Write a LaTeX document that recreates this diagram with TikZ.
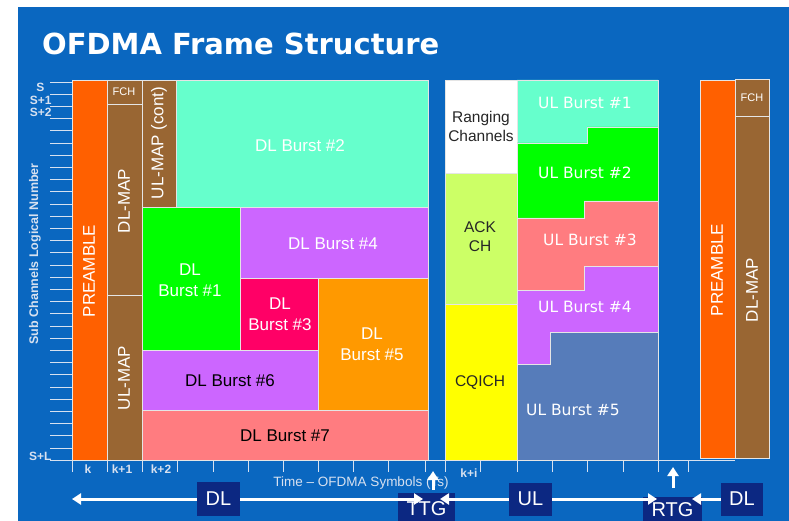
\documentclass[tikz,border=0pt]{standalone}
\usepackage{fontspec}
\setmainfont{Liberation Sans}
\newfontfamily\titlefont{DejaVu Sans}
\newfontfamily\ulfont{DejaVu Sans}
\usetikzlibrary{arrows.meta}

\definecolor{bgblue}{RGB}{10,103,192}
\definecolor{preorange}{RGB}{255,96,0}
\definecolor{mapbrown}{RGB}{153,102,51}
\definecolor{aqua}{RGB}{102,255,204}
\definecolor{burstgreen}{RGB}{0,255,0}
\definecolor{burstpurple}{RGB}{204,102,255}
\definecolor{burstred}{RGB}{255,0,102}
\definecolor{burstorange}{RGB}{255,153,0}
\definecolor{burstsalmon}{RGB}{255,124,128}
\definecolor{ackgreen}{RGB}{204,255,102}
\definecolor{cqiyellow}{RGB}{255,255,0}
\definecolor{ulsteel}{RGB}{86,124,186}
\definecolor{navybox}{RGB}{12,40,130}
\definecolor{axisgrey}{RGB}{215,225,240}

\begin{document}
\begin{tikzpicture}[x=1pt,y=-1pt,
    field/.style={draw=white!80!gray, line width=0.8pt},
    lbl/.style={font=\fontsize{17}{21}\selectfont, text=white, align=center},
    darklbl/.style={font=\fontsize{17}{21}\selectfont, text=black, align=center},
    chlbl/.style={font=\fontsize{15.5}{19}\selectfont, text=black!85, align=center},
    ullbl/.style={font=\ulfont\fontsize{15.5}{18}\selectfont, text=white},
    vlbl/.style={font=\fontsize{17}{19}\selectfont, text=white, rotate=90},
    fchlbl/.style={font=\fontsize{11}{12}\selectfont, text=white},
    ticklbl/.style={font=\bfseries\fontsize{12}{13}\selectfont, text=axisgrey},
    dirbox/.style={fill=navybox, text=white, font=\fontsize{20}{22}\selectfont, inner sep=0pt},
    dirarrow/.style={draw=white, line width=3pt, -{Triangle[length=9pt,width=11pt]}}]
  \useasboundingbox (0,0) rectangle (789,521);
  \fill[white] (0,0) rectangle (789,521);
  \fill[bgblue] (18,7) rectangle (789,521);

  % title
  \node[anchor=base west, inner sep=0pt, text=white,
        font=\titlefont\bfseries\fontsize{29}{30}\selectfont] (title) at (42,55) {OFDMA Frame Structure};

  % axes
  \draw[axisgrey, line width=0.8pt] (72,80) -- (72,460) -- (735,460);
  \foreach \i in {0,...,31}
    \draw[axisgrey, line width=0.8pt] (50,82+12.2*\i) -- (72,82+12.2*\i);
  \foreach \x in {72,107,142,177,213,248,283,318,353,388,425,445,480,517,552,587,623,658,688}
    \draw[axisgrey, line width=0.8pt] (\x,460) -- (\x,472);
  \node[rotate=90, font=\bfseries\fontsize{12.5}{14}\selectfont, text=axisgrey] (ylabel) at (35,254) {Sub Channels Logical Number};
  \node[ticklbl, anchor=east] (s0) at (48,87) {S};
  \node[ticklbl, anchor=east] (s1) at (55,100) {S+1};
  \node[ticklbl, anchor=east] (s2) at (55,112) {S+2};
  \node[ticklbl, anchor=east] (sl) at (55,456) {S+L};
  \node[ticklbl] (k0) at (88,469) {k};
  \node[ticklbl] (k1) at (122,469) {k+1};
  \node[ticklbl] (k2) at (161,469) {k+2};
  \node[ticklbl] (ki) at (469,473) {k+i};
  \node[font=\fontsize{13.5}{15}\selectfont, text=axisgrey] (xlabel) at (361,483) {Time -- OFDMA Symbols (Ts)};

  % downlink subframe
  \filldraw[field, fill=preorange] (72,80) rectangle (107,460);
  \filldraw[field, fill=mapbrown] (107,80) rectangle (142,104);
  \filldraw[field, fill=mapbrown] (107,104) rectangle (142,295);
  \filldraw[field, fill=mapbrown] (107,295) rectangle (142,460);
  \filldraw[field, fill=mapbrown] (142,80) rectangle (176,207);
  \filldraw[field, fill=aqua] (176,80) rectangle (428,207);
  \filldraw[field, fill=burstgreen] (142,207) rectangle (240,350);
  \filldraw[field, fill=burstpurple] (240,207) rectangle (428,278);
  \filldraw[field, fill=burstred] (240,278) rectangle (318,350);
  \filldraw[field, fill=burstorange] (318,278) rectangle (428,410);
  \filldraw[field, fill=burstpurple] (142,350) rectangle (318,410);
  \filldraw[field, fill=burstsalmon] (142,410) rectangle (428,460);

  \node[vlbl] (preL) at (89,271) {PREAMBLE};
  \node[fchlbl] (fchL) at (124,92) {FCH};
  \node[vlbl] (dlmapL) at (124,201) {DL-MAP};
  \node[vlbl] (ulmap) at (124,378) {UL-MAP};
  \node[vlbl] (ulcont) at (159,143) {UL-MAP (cont)};
  \node[lbl] (dl2) at (300,146) {DL Burst \#2};
  \node[lbl] (dl1) at (190,280) {DL\\Burst \#1};
  \node[lbl] (dl4) at (333,244) {DL Burst \#4};
  \node[lbl] (dl3) at (280,314) {DL\\Burst \#3};
  \node[lbl] (dl5) at (372,344) {DL\\Burst \#5};
  \node[darklbl] (dl6) at (230,381) {DL Burst \#6};
  \node[darklbl] (dl7) at (285,436) {DL Burst \#7};

  % uplink subframe
  \filldraw[field, fill=white] (445,80) rectangle (517,173);
  \filldraw[field, fill=ackgreen] (445,173) rectangle (517,304);
  \filldraw[field, fill=cqiyellow] (445,304) rectangle (517,460);
  \filldraw[field, fill=aqua] (517,80) -- (658,80) -- (658,127) -- (587,127) -- (587,143) -- (517,143) -- cycle;
  \filldraw[field, fill=burstgreen] (517,143) -- (587,143) -- (587,127) -- (658,127) -- (658,201) -- (584,201) -- (584,218) -- (517,218) -- cycle;
  \filldraw[field, fill=burstsalmon] (517,218) -- (584,218) -- (584,201) -- (658,201) -- (658,266) -- (584,266) -- (584,290) -- (517,290) -- cycle;
  \filldraw[field, fill=burstpurple] (517,290) -- (584,290) -- (584,266) -- (658,266) -- (658,332) -- (550,332) -- (550,364) -- (517,364) -- cycle;
  \filldraw[field, fill=ulsteel] (517,364) -- (550,364) -- (550,332) -- (658,332) -- (658,460) -- (517,460) -- cycle;

  \node[chlbl] (ranging) at (481,126) {Ranging\\Channels};
  \node[chlbl] (ack) at (480,237) {ACK\\CH};
  \node[chlbl] (cqich) at (480,383) {CQICH};
  \node[ullbl] (ul1) at (585,103) {UL Burst \#1};
  \node[ullbl] (ul2) at (585,173) {UL Burst \#2};
  \node[ullbl] (ul3) at (590,240) {UL Burst \#3};
  \node[ullbl] (ul4) at (585,307) {UL Burst \#4};
  \node[ullbl] (ul5) at (573,410) {UL Burst \#5};

  % next frame
  \filldraw[field, fill=preorange] (700,80) rectangle (735,458);
  \filldraw[field, fill=mapbrown] (735,79) rectangle (769,116);
  \filldraw[field, fill=mapbrown] (735,116) rectangle (769,458);
  \node[vlbl] (preR) at (717,270) {PREAMBLE};
  \node[fchlbl] (fchR) at (752,98) {FCH};
  \node[vlbl] (dlmapR) at (752,290) {DL-MAP};

  % DL / TTG / UL / RTG
  \node[dirbox, minimum width=57pt, minimum height=32pt] (ttg) at (426.5,509) {TTG};
  \node[dirbox, minimum width=59pt, minimum height=26pt] (rtg) at (672.5,510) {RTG};
  \node[dirbox, minimum width=43pt, minimum height=34pt] (dlL) at (218.5,499) {DL};
  \node[dirbox, minimum width=43pt, minimum height=33pt] (ul) at (530.5,499) {UL};
  \node[dirbox, minimum width=42pt, minimum height=33pt] (dlR) at (742,499) {DL};
  \coordinate (dlend) at (72,499);
  \coordinate (ttgin) at (423,499);
  \coordinate (ttgout) at (440,499);
  \coordinate (rtgin) at (657,499);
  \coordinate (rtgout) at (692,499);
  \coordinate (ttgup) at (433,471);
  \coordinate (rtgup) at (673,467);
  \draw[dirarrow] (dlL.west) -- (dlend);
  \draw[dirarrow] (dlL.east) -- (ttgin);
  \draw[dirarrow] (ul.west) -- (ttgout);
  \draw[dirarrow] (ul.east) -- (rtgin);
  \draw[dirarrow] (dlR.west) -- (rtgout);
  \draw[dirarrow] (ttg.north -| ttgup) ++(0,-3) -- (ttgup);
  \draw[dirarrow] (673,488) -- (rtgup);
\end{tikzpicture}
\end{document}
